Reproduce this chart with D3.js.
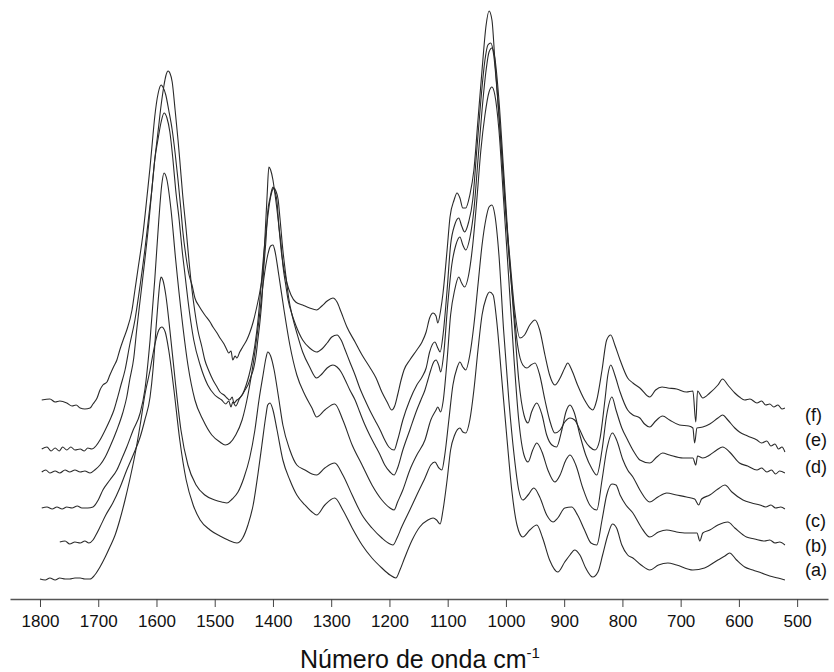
<!DOCTYPE html>
<html><head><meta charset="utf-8">
<script src="https://cdn.jsdelivr.net/npm/d3@7"></script>
<style>body{margin:0;background:#fff}svg{display:block}</style>
</head><body>
<svg id="chart" width="834" height="672"></svg>
<script>
// Tick labels (wavenumber, cm-1)
const tickValues = [1800,1700,1600,1500,1400,1300,1200,1100,1000,900,800,700,600,500];
// Series names, bottom to top
const seriesNames = ["(a)","(b)","(c)","(d)","(e)","(f)"];
// Spectra: [wavenumber cm-1, absorbance (a.u., stacked)]
const specA = [[1800,0.042],[1791,0.040],[1783,0.044],[1774,0.040],[1766,0.044],[1757,0.042],[1749,0.042],[1740,0.044],[1731,0.044],[1723,0.042],[1714,0.042],[1706,0.050],[1697,0.066],[1688,0.086],[1680,0.106],[1671,0.130],[1663,0.160],[1654,0.200],[1646,0.240],[1637,0.290],[1628,0.350],[1620,0.410],[1611,0.460],[1603,0.510],[1596,0.540],[1591,0.546],[1585,0.536],[1579,0.500],[1570,0.420],[1560,0.320],[1549,0.240],[1537,0.190],[1525,0.160],[1508,0.140],[1491,0.128],[1477,0.120],[1462,0.114],[1452,0.124],[1443,0.150],[1434,0.190],[1426,0.250],[1419,0.310],[1412,0.370],[1409,0.390],[1405,0.394],[1400,0.380],[1393,0.340],[1383,0.280],[1371,0.240],[1359,0.210],[1345,0.190],[1333,0.176],[1325,0.170],[1311,0.190],[1294,0.204],[1280,0.180],[1264,0.144],[1247,0.110],[1230,0.084],[1213,0.064],[1199,0.050],[1189,0.044],[1182,0.060],[1174,0.084],[1161,0.120],[1148,0.146],[1134,0.160],[1125,0.164],[1119,0.160],[1113,0.152],[1108,0.180],[1101,0.240],[1095,0.300],[1088,0.330],[1079,0.344],[1074,0.336],[1069,0.334],[1062,0.360],[1055,0.420],[1048,0.500],[1041,0.570],[1034,0.604],[1028,0.616],[1022,0.610],[1016,0.560],[1007,0.440],[998,0.320],[990,0.220],[981,0.150],[971,0.126],[959,0.140],[947,0.150],[937,0.124],[925,0.080],[911,0.056],[899,0.076],[890,0.090],[882,0.100],[873,0.090],[863,0.064],[851,0.046],[842,0.056],[834,0.090],[825,0.130],[817,0.152],[810,0.144],[801,0.110],[791,0.090],[782,0.084],[768,0.070],[753,0.060],[738,0.070],[722,0.074],[707,0.070],[679,0.060],[659,0.064],[636,0.080],[624,0.088],[616,0.094],[604,0.080],[590,0.066],[576,0.060],[561,0.054],[547,0.048],[533,0.044],[521,0.040]];
const specB = [[1766,0.116],[1757,0.118],[1749,0.112],[1740,0.116],[1731,0.114],[1723,0.118],[1716,0.114],[1709,0.120],[1704,0.130],[1697,0.146],[1687,0.170],[1675,0.194],[1663,0.224],[1651,0.260],[1640,0.290],[1628,0.326],[1620,0.360],[1611,0.406],[1606,0.460],[1601,0.540],[1597,0.600],[1594,0.636],[1592,0.646],[1589,0.640],[1584,0.610],[1577,0.540],[1568,0.440],[1558,0.340],[1546,0.270],[1532,0.230],[1517,0.210],[1500,0.200],[1488,0.196],[1479,0.194],[1470,0.202],[1460,0.216],[1450,0.244],[1440,0.284],[1431,0.340],[1424,0.400],[1417,0.450],[1412,0.484],[1409,0.496],[1404,0.488],[1398,0.460],[1391,0.410],[1383,0.350],[1371,0.300],[1359,0.270],[1345,0.260],[1333,0.252],[1325,0.250],[1311,0.264],[1294,0.274],[1280,0.250],[1264,0.210],[1247,0.170],[1230,0.144],[1213,0.124],[1199,0.112],[1194,0.110],[1187,0.124],[1179,0.146],[1165,0.180],[1153,0.210],[1139,0.244],[1129,0.270],[1122,0.276],[1115,0.264],[1110,0.260],[1105,0.290],[1098,0.360],[1091,0.430],[1084,0.464],[1079,0.476],[1074,0.466],[1069,0.460],[1062,0.490],[1055,0.550],[1048,0.630],[1041,0.710],[1034,0.764],[1029,0.786],[1024,0.790],[1019,0.770],[1012,0.690],[1004,0.540],[995,0.400],[986,0.290],[978,0.220],[971,0.200],[962,0.210],[952,0.224],[942,0.206],[930,0.170],[919,0.156],[911,0.164],[899,0.184],[887,0.186],[877,0.170],[865,0.140],[854,0.114],[844,0.110],[835,0.160],[827,0.210],[818,0.232],[811,0.230],[804,0.210],[794,0.190],[782,0.174],[768,0.146],[753,0.126],[738,0.136],[724,0.140],[707,0.136],[690,0.134],[672,0.134],[667,0.118],[662,0.134],[650,0.140],[636,0.150],[619,0.156],[607,0.144],[587,0.126],[573,0.122],[556,0.118],[547,0.120],[538,0.114],[530,0.116],[521,0.110]];
const specC = [[1797,0.184],[1788,0.186],[1779,0.182],[1771,0.186],[1762,0.182],[1754,0.186],[1745,0.184],[1736,0.188],[1728,0.184],[1718,0.184],[1709,0.186],[1700,0.200],[1692,0.220],[1680,0.240],[1668,0.260],[1659,0.284],[1651,0.306],[1640,0.340],[1628,0.374],[1620,0.420],[1611,0.520],[1603,0.640],[1596,0.760],[1591,0.830],[1587,0.854],[1582,0.840],[1575,0.780],[1567,0.680],[1556,0.560],[1546,0.470],[1534,0.400],[1520,0.360],[1505,0.330],[1491,0.316],[1482,0.310],[1474,0.314],[1464,0.330],[1453,0.360],[1443,0.410],[1433,0.480],[1424,0.560],[1416,0.640],[1409,0.690],[1404,0.708],[1400,0.710],[1397,0.700],[1390,0.650],[1381,0.580],[1371,0.510],[1359,0.450],[1345,0.410],[1333,0.384],[1325,0.366],[1311,0.380],[1294,0.392],[1280,0.360],[1264,0.310],[1247,0.270],[1230,0.230],[1213,0.200],[1199,0.184],[1192,0.180],[1186,0.196],[1177,0.220],[1165,0.260],[1153,0.290],[1139,0.320],[1129,0.360],[1120,0.380],[1117,0.386],[1112,0.376],[1108,0.396],[1101,0.480],[1095,0.570],[1088,0.620],[1081,0.646],[1076,0.634],[1071,0.626],[1064,0.650],[1057,0.710],[1050,0.800],[1043,0.900],[1036,0.970],[1029,1.016],[1024,1.026],[1019,1.010],[1012,0.940],[1004,0.800],[995,0.640],[986,0.480],[978,0.360],[969,0.290],[962,0.276],[954,0.300],[947,0.314],[938,0.296],[928,0.260],[916,0.236],[907,0.250],[897,0.280],[890,0.290],[880,0.270],[868,0.224],[856,0.190],[844,0.180],[835,0.240],[827,0.300],[817,0.334],[810,0.320],[799,0.280],[791,0.260],[782,0.246],[770,0.220],[753,0.196],[739,0.206],[724,0.214],[707,0.210],[690,0.206],[676,0.202],[669,0.190],[664,0.202],[650,0.210],[636,0.222],[624,0.230],[612,0.216],[593,0.200],[578,0.194],[564,0.190],[554,0.186],[545,0.190],[537,0.184],[528,0.186],[521,0.182]];
const specD = [[1797,0.256],[1790,0.260],[1783,0.254],[1774,0.258],[1766,0.254],[1757,0.260],[1749,0.256],[1740,0.260],[1731,0.256],[1723,0.258],[1714,0.254],[1706,0.260],[1697,0.270],[1688,0.286],[1680,0.306],[1668,0.340],[1658,0.374],[1651,0.406],[1646,0.440],[1639,0.484],[1634,0.540],[1627,0.610],[1620,0.680],[1613,0.756],[1608,0.820],[1603,0.880],[1597,0.924],[1592,0.956],[1587,0.974],[1582,0.964],[1577,0.936],[1572,0.884],[1567,0.820],[1561,0.760],[1556,0.700],[1551,0.650],[1546,0.600],[1541,0.556],[1536,0.520],[1525,0.470],[1512,0.430],[1500,0.410],[1488,0.400],[1481,0.392],[1476,0.398],[1472,0.386],[1469,0.396],[1464,0.388],[1457,0.404],[1452,0.412],[1446,0.430],[1441,0.450],[1436,0.476],[1431,0.510],[1426,0.556],[1421,0.620],[1416,0.690],[1410,0.756],[1405,0.800],[1402,0.816],[1398,0.824],[1395,0.818],[1391,0.800],[1388,0.764],[1383,0.700],[1378,0.650],[1373,0.604],[1366,0.564],[1359,0.534],[1349,0.496],[1337,0.466],[1325,0.444],[1316,0.452],[1307,0.464],[1297,0.470],[1290,0.466],[1283,0.456],[1276,0.440],[1268,0.420],[1259,0.400],[1251,0.376],[1242,0.350],[1234,0.330],[1225,0.310],[1216,0.290],[1208,0.270],[1199,0.256],[1192,0.250],[1186,0.264],[1177,0.300],[1165,0.340],[1153,0.380],[1146,0.400],[1139,0.420],[1134,0.440],[1129,0.460],[1124,0.476],[1120,0.480],[1115,0.468],[1112,0.456],[1107,0.490],[1100,0.590],[1093,0.670],[1086,0.710],[1079,0.726],[1074,0.710],[1069,0.700],[1062,0.724],[1055,0.780],[1048,0.880],[1041,0.980],[1034,1.060],[1029,1.096],[1024,1.104],[1019,1.084],[1012,1.000],[1004,0.860],[995,0.700],[986,0.560],[978,0.440],[969,0.370],[962,0.354],[956,0.376],[947,0.394],[938,0.370],[930,0.330],[921,0.310],[913,0.306],[904,0.340],[897,0.376],[890,0.390],[883,0.376],[873,0.330],[863,0.290],[853,0.264],[844,0.250],[835,0.300],[827,0.370],[818,0.406],[811,0.380],[801,0.344],[791,0.320],[780,0.296],[770,0.280],[753,0.274],[741,0.286],[731,0.294],[719,0.290],[696,0.284],[679,0.284],[674,0.270],[671,0.288],[662,0.284],[650,0.290],[638,0.300],[628,0.306],[616,0.296],[599,0.274],[585,0.268],[569,0.260],[561,0.264],[552,0.256],[544,0.260],[537,0.252],[530,0.258],[521,0.254]];
const specE = [[1797,0.302],[1788,0.306],[1781,0.298],[1774,0.304],[1767,0.298],[1761,0.306],[1754,0.300],[1747,0.306],[1740,0.300],[1731,0.302],[1724,0.298],[1718,0.304],[1711,0.302],[1704,0.308],[1697,0.320],[1688,0.340],[1680,0.360],[1673,0.380],[1668,0.400],[1661,0.430],[1654,0.460],[1646,0.510],[1637,0.560],[1628,0.630],[1620,0.700],[1613,0.770],[1608,0.820],[1603,0.880],[1597,0.940],[1592,0.990],[1587,1.030],[1584,1.048],[1580,1.058],[1577,1.054],[1573,1.036],[1568,0.980],[1563,0.920],[1560,0.880],[1555,0.810],[1549,0.740],[1544,0.676],[1539,0.620],[1534,0.576],[1529,0.540],[1522,0.506],[1517,0.480],[1510,0.458],[1503,0.440],[1496,0.426],[1491,0.416],[1484,0.410],[1479,0.404],[1474,0.400],[1470,0.406],[1467,0.394],[1462,0.400],[1457,0.404],[1453,0.410],[1448,0.420],[1443,0.430],[1438,0.446],[1433,0.464],[1429,0.490],[1426,0.520],[1422,0.560],[1419,0.600],[1416,0.660],[1412,0.720],[1409,0.776],[1405,0.804],[1402,0.820],[1400,0.826],[1397,0.818],[1393,0.796],[1390,0.750],[1386,0.710],[1383,0.670],[1378,0.630],[1374,0.600],[1367,0.570],[1361,0.550],[1349,0.520],[1337,0.504],[1325,0.496],[1316,0.502],[1307,0.514],[1299,0.526],[1290,0.530],[1283,0.520],[1276,0.500],[1268,0.476],[1259,0.450],[1251,0.424],[1242,0.400],[1234,0.380],[1225,0.360],[1216,0.340],[1208,0.320],[1201,0.306],[1192,0.300],[1186,0.320],[1177,0.360],[1165,0.400],[1153,0.430],[1144,0.446],[1137,0.464],[1131,0.496],[1122,0.516],[1117,0.504],[1113,0.496],[1108,0.530],[1101,0.620],[1095,0.710],[1088,0.750],[1081,0.764],[1076,0.748],[1071,0.736],[1064,0.756],[1057,0.800],[1050,0.900],[1043,1.000],[1036,1.080],[1031,1.110],[1026,1.114],[1021,1.090],[1014,1.000],[1005,0.860],[997,0.720],[988,0.600],[980,0.510],[971,0.470],[964,0.464],[957,0.470],[950,0.474],[942,0.450],[933,0.400],[925,0.360],[916,0.334],[907,0.340],[899,0.356],[890,0.364],[882,0.360],[873,0.340],[865,0.320],[856,0.306],[847,0.300],[839,0.320],[830,0.400],[825,0.450],[820,0.470],[813,0.450],[804,0.416],[791,0.380],[782,0.370],[770,0.364],[762,0.352],[753,0.346],[743,0.358],[731,0.368],[719,0.360],[702,0.350],[686,0.348],[679,0.344],[676,0.314],[672,0.344],[662,0.346],[650,0.352],[636,0.364],[628,0.370],[619,0.360],[607,0.344],[599,0.336],[585,0.328],[569,0.320],[561,0.314],[552,0.318],[545,0.308],[538,0.312],[532,0.302],[526,0.306],[521,0.296]];
const specF = [[1797,0.400],[1783,0.402],[1774,0.396],[1766,0.398],[1754,0.394],[1745,0.388],[1738,0.390],[1731,0.384],[1723,0.382],[1714,0.384],[1709,0.392],[1702,0.404],[1697,0.420],[1692,0.430],[1685,0.436],[1680,0.450],[1673,0.468],[1668,0.480],[1663,0.500],[1656,0.524],[1651,0.540],[1642,0.580],[1637,0.620],[1632,0.660],[1623,0.734],[1616,0.810],[1611,0.866],[1606,0.930],[1603,0.966],[1597,1.014],[1592,1.030],[1589,1.026],[1584,1.010],[1579,0.980],[1573,0.940],[1568,0.894],[1563,0.840],[1558,0.780],[1555,0.740],[1549,0.684],[1544,0.650],[1539,0.630],[1534,0.604],[1527,0.588],[1517,0.570],[1508,0.556],[1503,0.546],[1496,0.534],[1491,0.524],[1484,0.512],[1479,0.500],[1476,0.494],[1472,0.498],[1469,0.480],[1465,0.488],[1462,0.484],[1457,0.496],[1452,0.506],[1445,0.520],[1440,0.534],[1434,0.556],[1429,0.580],[1422,0.620],[1417,0.660],[1414,0.720],[1410,0.810],[1407,0.866],[1404,0.860],[1400,0.840],[1397,0.816],[1391,0.760],[1385,0.690],[1376,0.634],[1369,0.610],[1361,0.596],[1349,0.590],[1337,0.584],[1325,0.580],[1316,0.588],[1307,0.598],[1297,0.604],[1290,0.596],[1283,0.576],[1273,0.546],[1259,0.516],[1247,0.490],[1234,0.466],[1223,0.444],[1213,0.416],[1204,0.396],[1196,0.380],[1191,0.388],[1186,0.410],[1180,0.440],[1175,0.460],[1165,0.480],[1153,0.500],[1144,0.516],[1137,0.536],[1131,0.564],[1125,0.574],[1120,0.568],[1117,0.554],[1112,0.580],[1108,0.614],[1101,0.700],[1096,0.766],[1089,0.800],[1084,0.814],[1079,0.804],[1074,0.784],[1069,0.784],[1062,0.810],[1055,0.860],[1048,0.960],[1041,1.060],[1034,1.150],[1029,1.178],[1024,1.160],[1019,1.080],[1010,0.940],[1002,0.800],[993,0.680],[985,0.580],[976,0.524],[968,0.530],[959,0.550],[950,0.560],[942,0.540],[933,0.490],[925,0.450],[916,0.430],[907,0.444],[899,0.464],[894,0.474],[887,0.460],[877,0.430],[865,0.400],[856,0.384],[851,0.380],[844,0.400],[835,0.460],[827,0.520],[820,0.530],[813,0.510],[804,0.480],[791,0.444],[782,0.434],[770,0.424],[753,0.406],[743,0.420],[732,0.426],[722,0.424],[707,0.422],[690,0.416],[679,0.418],[674,0.356],[671,0.418],[662,0.404],[650,0.414],[636,0.430],[628,0.442],[619,0.430],[607,0.414],[599,0.406],[590,0.400],[581,0.402],[569,0.394],[561,0.398],[554,0.390],[547,0.392],[540,0.386],[533,0.390],[526,0.382],[521,0.384]];

const series = [specA, specB, specC, specD, specE, specF];
const labelY = [576, 552, 527, 473, 446, 421]; // label baselines (layout)

const svg = d3.select("#chart");
const x = d3.scaleLinear().domain([1851.5, 447]).range([10, 828]);
const y = d3.scaleLinear().domain([0, 1.2]).range([600, 0]);

const line = d3.line().x(d => x(d[0])).y(d => y(d[1])).curve(d3.curveMonotoneX);

svg.append("g").selectAll("path").data(series).join("path")
  .attr("d", line).attr("fill", "none")
  .attr("stroke", "#2a2a2a").attr("stroke-width", 1.1)
  .attr("stroke-linejoin", "round");

const axis = d3.axisBottom(x).tickValues(tickValues).tickSize(8).tickSizeOuter(0).tickPadding(8).tickFormat(d3.format("d"));
const gx = svg.append("g").attr("transform", "translate(0,599)").call(axis);
gx.select(".domain").attr("stroke", "#555").attr("stroke-width", 1.5);
gx.selectAll(".tick line").attr("stroke", "#444");
gx.selectAll(".tick text").attr("font-family", "'Liberation Sans', Arial, sans-serif").attr("font-size", 17).attr("fill", "#111");

const xl = svg.append("text").attr("x", 420).attr("y", 668).attr("text-anchor", "middle")
  .attr("font-family", "'Liberation Sans', Arial, sans-serif").attr("font-size", 25).attr("fill", "#111");
xl.append("tspan").text("Número de onda cm");
xl.append("tspan").attr("font-size", 15).attr("dy", -10).text("-1");

svg.append("g").selectAll("text").data(seriesNames).join("text")
  .attr("x", 805).attr("y", (d, i) => labelY[i])
  .attr("font-family", "'Liberation Sans', Arial, sans-serif").attr("font-size", 18).attr("fill", "#111")
  .text(d => d);
</script>
</body></html>
